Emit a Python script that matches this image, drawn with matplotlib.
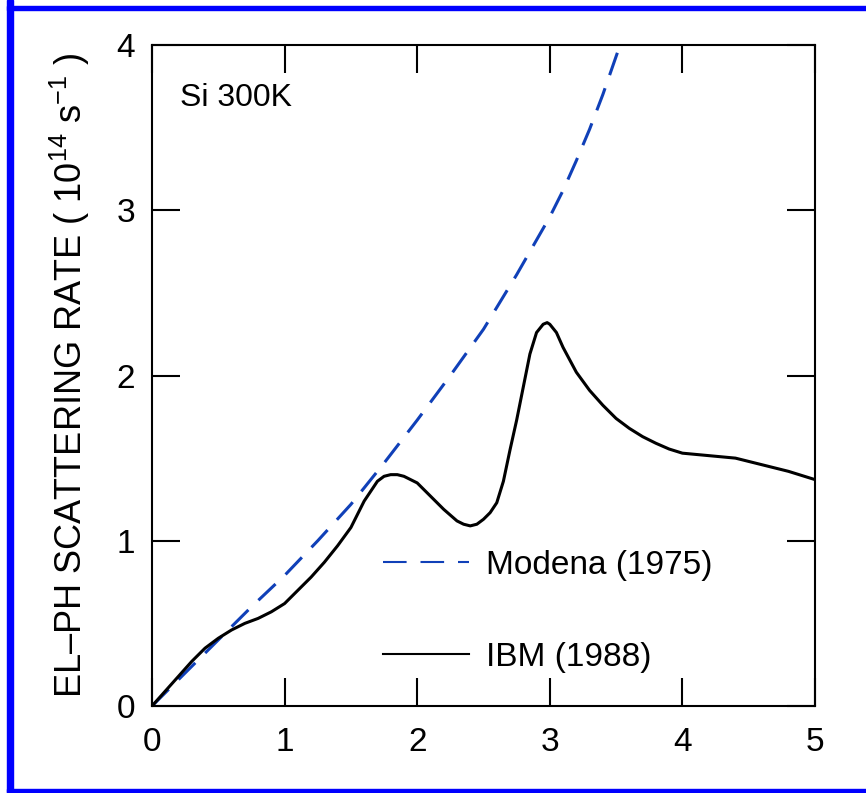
import matplotlib
matplotlib.use("Agg")
import matplotlib.pyplot as plt
from matplotlib.patches import Rectangle

plt.rcParams["font.family"] = ["Liberation Sans", "DejaVu Sans"]
plt.rcParams["mathtext.fontset"] = "custom"
plt.rcParams["mathtext.rm"] = "Liberation Sans"
plt.rcParams["mathtext.it"] = "Liberation Sans"
plt.rcParams["lines.scale_dashes"] = False

# energy (eV) vs scattering rate (1e14 1/s)
modena_x = [0.0, 0.25, 0.5, 0.75, 1.0, 1.25, 1.5, 1.75, 2.0, 2.25, 2.5,
            2.75, 3.0, 3.1, 3.2, 3.3, 3.4, 3.53]
modena_y = [0.0, 0.20, 0.40, 0.60, 0.79, 1.00, 1.22, 1.47, 1.73, 2.00, 2.28,
            2.61, 2.96, 3.12, 3.30, 3.49, 3.70, 4.0]

ibm_x = [0.0, 0.1, 0.2, 0.3, 0.4, 0.5, 0.6, 0.7, 0.8, 0.9, 1.0, 1.1, 1.2,
         1.3, 1.4, 1.5, 1.6, 1.7, 1.75, 1.8, 1.85, 1.9, 2.0, 2.1, 2.2, 2.3,
         2.35, 2.4, 2.45, 2.5, 2.55, 2.6, 2.65, 2.7, 2.75, 2.8, 2.85, 2.9,
         2.95, 2.98, 3.0, 3.05, 3.1, 3.2, 3.3, 3.4, 3.5, 3.6, 3.7, 3.8, 3.9,
         4.0, 4.2, 4.4, 4.6, 4.8, 5.0]
ibm_y = [0.0, 0.09, 0.18, 0.27, 0.35, 0.41, 0.46, 0.50, 0.53, 0.57, 0.62,
         0.70, 0.78, 0.87, 0.97, 1.08, 1.24, 1.36, 1.39, 1.40, 1.40, 1.39,
         1.35, 1.27, 1.19, 1.12, 1.10, 1.09, 1.10, 1.13, 1.17, 1.23, 1.36,
         1.55, 1.73, 1.93, 2.13, 2.26, 2.31, 2.32, 2.31, 2.26, 2.17, 2.02,
         1.91, 1.82, 1.74, 1.68, 1.63, 1.59, 1.555, 1.53, 1.515, 1.50, 1.46,
         1.42, 1.37]

xticks = [0, 1, 2, 3, 4, 5]
yticks = [0, 1, 2, 3, 4]

fig = plt.figure(figsize=(8.66, 7.93), dpi=100)
ax = fig.add_axes([152 / 866, 87 / 793, 663 / 866, 661 / 793])

ax.plot(modena_x, modena_y, color="#1040b8", lw=2.2, dashes=(17, 10),
        label="Modena (1975)")
ax.plot(ibm_x, ibm_y, color="black", lw=2.2, label="IBM (1988)")

ax.set_xlim(0, 5)
ax.set_ylim(0, 4)
ax.set_xticks(xticks)
ax.set_yticks(yticks)
ax.tick_params(direction="in", length=20, width=1.5, top=True, right=True,
               labelsize=24)
ax.tick_params(axis="x", pad=15)
ax.tick_params(axis="y", pad=12)
for s in ax.spines.values():
    s.set_linewidth(1.5)

ax.set_ylabel("EL\u2013PH SCATTERING RATE ( 10$^{14}$ s$^{-1}$ )", fontsize=26)
ax.yaxis.set_label_coords(-0.09, 0.5)

ax.text(0.042, 0.92, "Si 300K", transform=ax.transAxes, fontsize=23,
        va="center", ha="left")

leg = ax.legend(loc="upper left", bbox_to_anchor=(0.348, 0.236), frameon=False,
                fontsize=24, handlelength=2.6, handletextpad=0.5,
                labelspacing=1.82, borderpad=0, borderaxespad=0)
for h in leg.get_lines():
    h.set_linewidth(1.5)

# blue frame around the picture (no right edge visible)
fig.patches.append(Rectangle((7 / 866, 0), 6 / 866, 1, transform=fig.transFigure,
                             color="#0000ff", zorder=0))
fig.patches.append(Rectangle((7 / 866, 783 / 793), 1, 4 / 793,
                             transform=fig.transFigure, color="#0000ff", zorder=0))
fig.patches.append(Rectangle((7 / 866, 1 / 793), 1, 3 / 793,
                             transform=fig.transFigure, color="#0000ff", zorder=0))

fig.savefig("out.png", dpi=100)
